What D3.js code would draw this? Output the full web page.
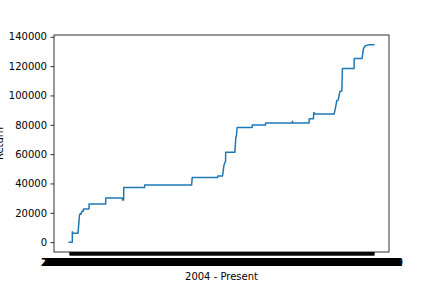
<!DOCTYPE html>
<html>
<head>
<meta charset="utf-8">
<script src="https://cdn.jsdelivr.net/npm/d3@7"></script>
<style>
  html, body { margin: 0; padding: 0; background: #fff; }
  svg { display: block; }
  text { font-family: "DejaVu Sans", sans-serif; }
</style>
</head>
<body>
<script>
// ---- Data ----
const dates = [
  "2004-01-02","2004-03-01","2004-03-02","2004-03-10","2004-06-18","2004-07-17","2004-08-01",
  "2004-08-14","2004-09-03","2004-09-28","2004-09-30","2005-01-15","2005-01-17","2005-12-01",
  "2005-12-03","2006-10-15","2006-10-19","2006-11-11","2006-11-13","2007-12-17","2007-12-19",
  "2010-06-07","2010-06-18","2011-10-18","2011-10-20","2012-01-21","2012-02-15","2012-03-02",
  "2012-03-19","2012-03-21","2012-09-13","2012-10-02","2012-10-12","2012-10-27","2013-08-11",
  "2013-08-13","2014-04-24","2014-04-26","2015-09-20","2015-09-24","2015-09-28","2016-08-08",
  "2016-08-10","2016-10-28","2016-11-06","2016-11-25","2017-11-30","2017-12-23","2018-01-21",
  "2018-02-19","2018-03-19","2018-04-27","2018-05-09","2018-12-19","2018-12-21","2019-05-21",
  "2019-06-13","2019-07-21","2019-09-26","2019-12-31"
];
const returns = [
  0, 0, 7000, 6000, 6000, 18500, 19500,
  19000, 21000, 21000, 22600, 22600, 26000, 26000,
  30100, 30100, 28700, 28700, 37300, 37300, 39000,
  39000, 44100, 44100, 45100, 45100, 52000, 54000,
  55000, 61200, 61200, 71400, 72000, 78200, 78200,
  79800, 79800, 81200, 81200, 82500, 81200, 81200,
  84100, 84100, 88400, 87300, 87300, 91000, 96400,
  97000, 102700, 103000, 118400, 118400, 125200, 125200,
  131600, 133900, 134500, 134500
];
const yTicks = [0, 20000, 40000, 60000, 80000, 100000, 120000, 140000];
const xLabel = "2004 - Present";
const yLabel = "Return";

// ---- Layout ----
const W = 432, H = 288;
const L = 54, R = 389, T = 35, B = 252;

const parse = d3.timeParse("%Y-%m-%d");
const data = dates.map((d, i) => ({ date: parse(d), value: returns[i] }));

const svg = d3.select("body").append("svg").attr("width", W).attr("height", H);

const xMin = data[0].date, xMax = data[data.length - 1].date;
const span = xMax - xMin;
const x = d3.scaleTime()
  .domain([new Date(+xMin - 0.05 * span), new Date(+xMax + 0.05 * span)])
  .range([L, R]);

const yMaxData = d3.max(returns), yMinData = d3.min(returns);
const ySpan = yMaxData - yMinData;
const y = d3.scaleLinear()
  .domain([yMinData - 0.05 * ySpan, yMaxData + 0.05 * ySpan])
  .range([B, T]);

// ---- Line ----
svg.append("path")
  .datum(data)
  .attr("fill", "none")
  .attr("stroke", "#1f77b4")
  .attr("stroke-width", 1.5)
  .attr("stroke-linejoin", "round")
  .attr("stroke-linecap", "square")
  .attr("d", d3.line().x(d => x(d.date)).y(d => y(d.value)));

// ---- X axis: one dense tick per week (overlapping labels) ----
const xTickValues = d3.timeWeek.range(xMin, new Date(+xMax + 1));
const fmt = d3.timeFormat("%Y-%m-%d");
const xAxis = d3.axisBottom(x).tickValues(xTickValues).tickFormat(fmt)
  .tickSizeInner(3.5).tickSizeOuter(0).tickPadding(3.5);
const gx = svg.append("g").attr("transform", `translate(0,${B})`).call(xAxis);
gx.select(".domain").remove();
gx.selectAll(".tick line").attr("stroke", "#000").attr("stroke-width", 0.8);
gx.selectAll(".tick text").attr("font-size", 10).attr("fill", "#000")
  .attr("font-family", "DejaVu Sans");

// ---- Y axis ----
const yAxis = d3.axisLeft(y).tickValues(yTicks).tickFormat(d3.format("d"))
  .tickSizeInner(3.5).tickSizeOuter(0).tickPadding(3.5);
const gy = svg.append("g").attr("transform", `translate(${L},0)`).call(yAxis);
gy.select(".domain").remove();
gy.selectAll(".tick line").attr("stroke", "#000").attr("stroke-width", 0.8);
gy.selectAll(".tick text").attr("font-size", 10).attr("fill", "#000")
  .attr("font-family", "DejaVu Sans");

// ---- Spines ----
svg.append("rect")
  .attr("x", L).attr("y", T).attr("width", R - L).attr("height", B - T)
  .attr("fill", "none").attr("stroke", "#000").attr("stroke-width", 0.8);

// ---- Labels ----
svg.append("text")
  .attr("x", (L + R) / 2).attr("y", 280)
  .attr("text-anchor", "middle").attr("font-size", 10).attr("fill", "#000")
  .text(xLabel);

svg.append("text")
  .attr("transform", `translate(3,${(T + B) / 2}) rotate(-90)`)
  .attr("text-anchor", "middle").attr("font-size", 10).attr("fill", "#000")
  .text(yLabel);
</script>
</body>
</html>
